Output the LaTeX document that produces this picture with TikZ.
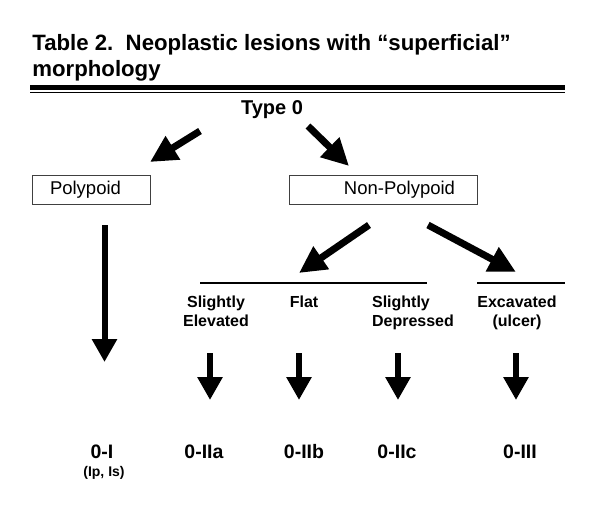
\documentclass[tikz,border=0pt]{standalone}
\usepackage{fontspec}
\setmainfont{Liberation Sans}
\usetikzlibrary{arrows.meta}

\tikzset{every picture/.style={line width=0.75pt}}
\tikzset{
  bigarrow/.style={line width=7pt,-{Triangle[length=27pt,width=26pt]}},
  downarrow/.style={line width=6pt,-{Triangle[length=23pt,width=24pt]}},
  titletext/.style={font=\bfseries\fontsize{22.2}{26}\selectfont,anchor=base west,inner sep=0pt},
  grouplabel/.style={font=\fontsize{18.5}{22}\selectfont,draw=black!75,line width=0.9pt,minimum height=29pt},
  lesionlabel/.style={font=\bfseries\fontsize{16}{19}\selectfont,anchor=base,inner sep=0pt},
  typelabel/.style={font=\bfseries\fontsize{19.5}{22}\selectfont,anchor=base,inner sep=0pt}
}

\begin{document}
\begin{tikzpicture}[x=1pt,y=1pt,yscale=-1,xscale=1]
\useasboundingbox (0,0) rectangle (589,515);

% Title
\draw (32,50) node [titletext] (title1) {Table 2.\ \ Neoplastic lesions with “superficial”};
\draw (32,76) node [titletext] (title2) {morphology};
%Shape: double rule
\draw [line width=5pt] (30,87.5) -- (565,87.5);
\draw [line width=1.2pt] (30,92.6) -- (565,92.6);

% Text Node
\draw (272,110) node [font=\bfseries\fontsize{20}{24}\selectfont,inner sep=0pt] (type0) {Type 0};
% Boxes
\draw (91,189.5) node [grouplabel,minimum width=118pt,text width=82pt,inner xsep=18pt,align=left] (poly) {Polypoid};
\draw (383,189.5) node [grouplabel,minimum width=188pt,text width=144pt,inner xsep=22pt,align=right] (nonpoly) {Non-Polypoid};

% Arrow ends
\coordinate (tl1) at (200,131);
\coordinate (hl1) at (150,162);
\coordinate (tr1) at (308,126);
\coordinate (hr1) at (349,166);
\coordinate (tl2) at (369,225);
\coordinate (hl2) at (299,273);
\coordinate (tr2) at (428,225);
\coordinate (hr2) at (516,272);
\coordinate (tp) at (104.5,225);
\coordinate (hp) at (104.5,362);

\draw [bigarrow] (tl1) -- (hl1);
\draw [bigarrow] (tr1) -- (hr1);
\draw [bigarrow] (tl2) -- (hl2);
\draw [bigarrow] (tr2) -- (hr2);
\draw [downarrow] (tp) -- (hp);

%Shape: group lines
\draw [line width=2pt] (200,283) -- (427,283);
\draw [line width=2pt] (477,283) -- (565,283);

% Lesion labels (base = last line)
\draw (216,326) node [lesionlabel,align=center] (elev) {Slightly\\Elevated};
\draw (304,307) node [lesionlabel] (flat) {Flat};
\draw (413,326) node [lesionlabel,align=left] (depr) {Slightly\\Depressed};
\draw (517,326) node [lesionlabel,align=center] (exca) {Excavated\\(ulcer)};

% Short arrows
\foreach \n/\x in {a/210,b/299,c/398,d/516}{
  \coordinate (s\n) at (\x,353);
  \coordinate (e\n) at (\x,400);
  \draw [downarrow] (s\n) -- (e\n);
}

% Type labels
\draw (102,458) node [typelabel] (t0I) {0-I};
\draw (104,476) node [font=\bfseries\fontsize{14}{16}\selectfont,anchor=base,inner sep=0pt] (t0Isub) {(Ip, Is)};
\draw (204,458) node [typelabel] (t0IIa) {0-IIa};
\draw (304,458) node [typelabel] (t0IIb) {0-IIb};
\draw (397,458) node [typelabel] (t0IIc) {0-IIc};
\draw (520,458) node [typelabel] (t0III) {0-III};

\end{tikzpicture}
\end{document}
